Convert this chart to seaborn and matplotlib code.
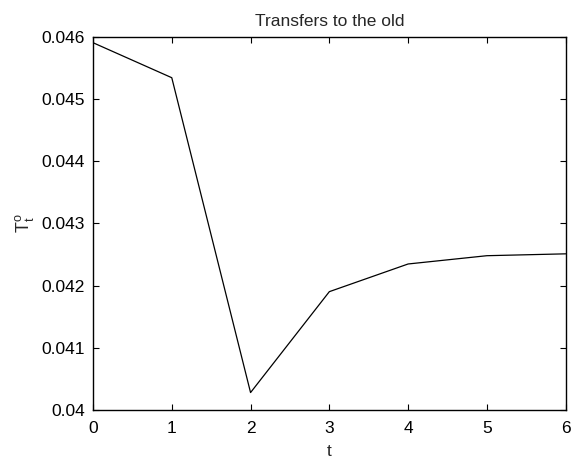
import matplotlib
matplotlib.use("Agg")
import matplotlib.pyplot as plt
import seaborn as sns
import pandas as pd

# Transfers to the old generation over time
periods = [0, 1, 2, 3, 4, 5, 6]
transfers = [0.045904, 0.045341, 0.040280, 0.041902, 0.042347, 0.042480, 0.042510]
y_ticks = [0.040, 0.041, 0.042, 0.043, 0.044, 0.045, 0.046]
y_tick_labels = ["0.04", "0.041", "0.042", "0.043", "0.044", "0.045", "0.046"]

sns.set_style("ticks")
plt.rcParams["font.family"] = ["Liberation Sans", "DejaVu Sans"]
plt.rcParams["mathtext.fontset"] = "custom"
plt.rcParams["mathtext.rm"] = "Liberation Sans"
plt.rcParams["mathtext.it"] = "Liberation Sans"

df = pd.DataFrame({"t": periods, "T": transfers})

fig = plt.figure(figsize=(5.83, 4.63), dpi=100)
ax = fig.add_axes([0.1595, 0.1145, 0.8108, 0.8062])
sns.lineplot(data=df, x="t", y="T", ax=ax, color="black", linewidth=0.9)

ax.set_xlim(0, 6)
ax.set_ylim(0.040, 0.046)
ax.set_xticks(periods)
ax.set_yticks(y_ticks)
ax.set_yticklabels(y_tick_labels)
ax.tick_params(direction="in", length=4.5, width=0.8, labelsize=12.5,
               top=True, right=True, colors="black")
ax.tick_params(axis="x", pad=8)
ax.tick_params(axis="y", pad=6)
for s in ax.spines.values():
    s.set_visible(True)
    s.set_linewidth(1.0)
    s.set_color("black")

ax.set_title("Transfers to the old", fontsize=12.5, pad=8)
ax.set_xlabel("t", fontsize=12.5, labelpad=6)
ax.set_ylabel(r"$\mathregular{T^o_t}$", fontsize=13, labelpad=4)

fig.savefig("out.png", dpi=100)
